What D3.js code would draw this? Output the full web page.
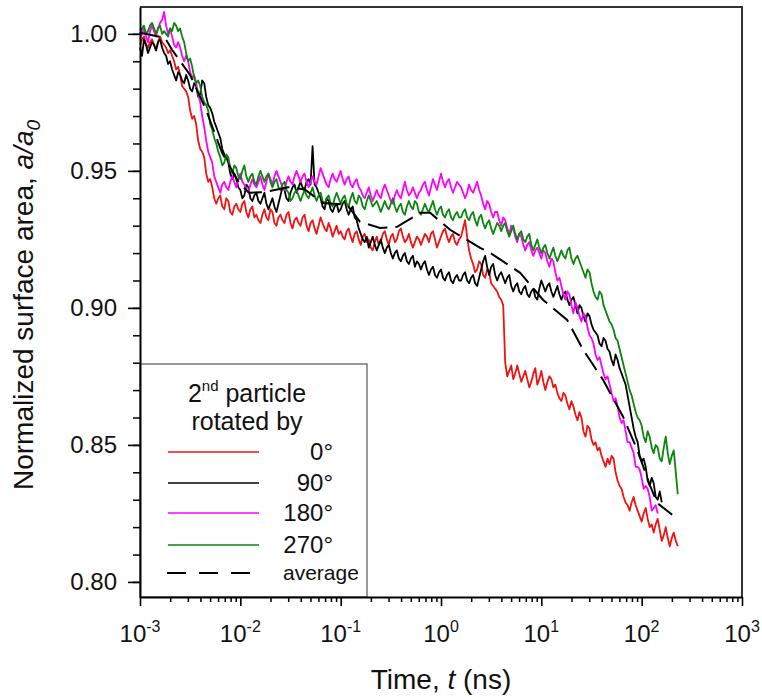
<!DOCTYPE html>
<html>
<head>
<meta charset="utf-8">
<script src="https://cdn.jsdelivr.net/npm/d3@7"></script>
<style>
  body { margin: 0; background: #fff; }
  svg { display: block; font-family: "Liberation Sans", Arial, sans-serif; }
</style>
</head>
<body>
<svg id="chart" width="762" height="700"></svg>
<script>
// ---------- DATA ----------
// common time grid (ns)
const time = [
  1.000e-3,1.047e-3,1.096e-3,1.148e-3,1.202e-3,1.259e-3,1.318e-3,1.380e-3,1.445e-3,1.514e-3,1.585e-3,1.660e-3,1.738e-3,1.820e-3,1.905e-3,1.995e-3,2.089e-3,2.188e-3,2.291e-3,2.399e-3,2.512e-3,2.630e-3,2.754e-3,2.884e-3,3.020e-3,3.162e-3,3.311e-3,3.467e-3,3.631e-3,3.802e-3,3.981e-3,4.169e-3,4.365e-3,4.571e-3,4.786e-3,5.012e-3,5.248e-3,5.495e-3,5.754e-3,6.026e-3,6.310e-3,6.607e-3,6.918e-3,7.244e-3,7.586e-3,7.943e-3,8.318e-3,8.710e-3,9.120e-3,9.550e-3,
  1.000e-2,1.047e-2,1.096e-2,1.148e-2,1.202e-2,1.259e-2,1.318e-2,1.380e-2,1.445e-2,1.514e-2,1.585e-2,1.660e-2,1.738e-2,1.820e-2,1.905e-2,1.995e-2,2.089e-2,2.188e-2,2.291e-2,2.399e-2,2.512e-2,2.630e-2,2.754e-2,2.884e-2,3.020e-2,3.162e-2,3.311e-2,3.467e-2,3.631e-2,3.802e-2,3.981e-2,4.169e-2,4.365e-2,4.571e-2,4.786e-2,5.012e-2,5.248e-2,5.495e-2,5.754e-2,6.026e-2,6.310e-2,6.607e-2,6.918e-2,7.244e-2,7.586e-2,7.943e-2,8.318e-2,8.710e-2,9.120e-2,9.550e-2,
  1.000e-1,1.047e-1,1.096e-1,1.148e-1,1.202e-1,1.259e-1,1.318e-1,1.380e-1,1.445e-1,1.514e-1,1.585e-1,1.660e-1,1.738e-1,1.820e-1,1.905e-1,1.995e-1,2.089e-1,2.188e-1,2.291e-1,2.399e-1,2.512e-1,2.630e-1,2.754e-1,2.884e-1,3.020e-1,3.162e-1,3.311e-1,3.467e-1,3.631e-1,3.802e-1,3.981e-1,4.169e-1,4.365e-1,4.571e-1,4.786e-1,5.012e-1,5.248e-1,5.495e-1,5.754e-1,6.026e-1,6.310e-1,6.607e-1,6.918e-1,7.244e-1,7.586e-1,7.943e-1,8.318e-1,8.710e-1,9.120e-1,9.550e-1,
  1.000e0,1.047e0,1.096e0,1.148e0,1.202e0,1.259e0,1.318e0,1.380e0,1.445e0,1.514e0,1.585e0,1.660e0,1.738e0,1.820e0,1.905e0,1.995e0,2.089e0,2.188e0,2.291e0,2.399e0,2.512e0,2.630e0,2.754e0,2.884e0,3.020e0,3.162e0,3.311e0,3.467e0,3.631e0,3.802e0,3.981e0,4.169e0,4.365e0,4.571e0,4.786e0,5.012e0,5.248e0,5.495e0,5.754e0,6.026e0,6.310e0,6.607e0,6.918e0,7.244e0,7.586e0,7.943e0,8.318e0,8.710e0,9.120e0,9.550e0,
  1.000e1,1.047e1,1.096e1,1.148e1,1.202e1,1.259e1,1.318e1,1.380e1,1.445e1,1.514e1,1.585e1,1.660e1,1.738e1,1.820e1,1.905e1,1.995e1,2.089e1,2.188e1,2.291e1,2.399e1,2.512e1,2.630e1,2.754e1,2.884e1,3.020e1,3.162e1,3.311e1,3.467e1,3.631e1,3.802e1,3.981e1,4.169e1,4.365e1,4.571e1,4.786e1,5.012e1,5.248e1,5.495e1,5.754e1,6.026e1,6.310e1,6.607e1,6.918e1,7.244e1,7.586e1,7.943e1,8.318e1,8.710e1,9.120e1,9.550e1,
  1.000e2,1.047e2,1.096e2,1.148e2,1.202e2,1.259e2,1.318e2,1.380e2,1.445e2,1.514e2,1.585e2,1.660e2,1.738e2,1.820e2,1.905e2,1.995e2,2.089e2,2.188e2,2.291e2
];

// 2nd particle rotated by 0°
const rot0 = [
  0.996,0.998,0.999,0.996,0.995,0.997,0.998,0.996,0.994,0.997,0.999,0.997,0.996,0.995,0.993,0.994,0.992,0.990,0.987,0.988,
  0.985,0.981,0.980,0.979,0.977,0.972,0.969,0.970,0.967,0.961,0.958,0.957,0.955,0.949,0.946,0.947,0.944,0.940,0.938,0.940,
  0.941,0.937,0.936,0.940,0.939,0.935,0.934,0.937,0.938,0.936,0.935,0.938,0.939,0.935,0.933,0.936,0.937,0.933,0.934,0.932,
  0.931,0.934,0.936,0.933,0.932,0.936,0.935,0.931,0.930,0.933,0.934,0.932,0.931,0.934,0.935,0.931,0.929,0.932,0.933,0.931,
  0.930,0.933,0.934,0.930,0.928,0.931,0.932,0.929,0.927,0.930,0.933,0.931,0.929,0.928,0.931,0.929,0.926,0.928,0.930,0.927,
  0.928,0.926,0.925,0.928,0.929,0.926,0.924,0.927,0.928,0.925,0.923,0.926,0.927,0.924,0.925,0.922,0.921,0.924,0.926,0.923,
  0.924,0.927,0.928,0.925,0.923,0.926,0.927,0.924,0.925,0.928,0.929,0.926,0.924,0.925,0.927,0.924,0.922,0.924,0.926,0.925,
  0.923,0.925,0.927,0.926,0.924,0.927,0.928,0.925,0.922,0.924,0.926,0.928,0.929,0.926,0.924,0.926,0.927,0.924,0.923,0.925,
  0.926,0.929,0.932,0.926,0.921,0.918,0.916,0.913,0.914,0.917,0.916,0.912,0.911,0.914,0.913,0.909,0.908,0.907,0.906,0.904,0.903,0.901,0.880,0.875,
  0.877,0.879,0.874,0.876,0.879,0.876,0.873,0.875,0.877,0.874,0.871,0.873,0.876,0.878,0.872,0.874,0.877,0.873,0.870,0.873,0.875,0.874,0.871,0.872,
  0.869,0.867,0.866,0.869,0.868,0.865,0.863,0.866,0.864,0.861,0.859,0.862,0.860,0.855,0.853,0.857,0.856,0.852,0.850,0.851,0.848,0.849,0.846,0.844,0.842,0.845,
  0.843,0.846,0.845,0.840,0.837,0.835,0.834,0.831,0.829,0.828,0.826,0.829,0.831,0.828,0.826,0.824,0.822,0.825,0.827,0.823,0.820,0.821,
  0.818,0.821,0.823,0.819,0.815,0.817,0.820,0.816,0.813,0.816,0.818,0.815,0.813
];

// rotated by 90°
const rot90 = [
  0.995,0.992,0.998,0.996,0.993,0.995,0.997,0.996,0.994,0.997,0.998,0.995,0.993,0.992,0.989,0.990,0.987,0.985,0.983,0.986,
  0.985,0.983,0.982,0.985,0.983,0.980,0.979,0.982,0.981,0.977,0.978,0.983,0.982,0.977,0.974,0.973,0.971,0.968,0.966,0.964,
  0.962,0.958,0.956,0.955,0.953,0.949,0.947,0.949,0.947,0.944,0.943,0.940,0.941,0.945,0.944,0.940,0.939,0.941,0.942,0.939,
  0.938,0.940,0.942,0.938,0.936,0.938,0.940,0.937,0.935,0.938,0.941,0.944,0.943,0.940,0.939,0.942,0.944,0.945,0.942,0.944,
  0.946,0.944,0.943,0.946,0.947,0.945,0.959,0.945,0.944,0.942,0.940,0.937,0.936,0.940,0.939,0.936,0.935,0.937,0.938,0.935,
  0.936,0.938,0.939,0.936,0.934,0.936,0.937,0.933,0.932,0.929,0.927,0.925,0.924,0.926,0.922,0.924,0.926,0.923,0.921,0.923,
  0.925,0.922,0.920,0.922,0.923,0.920,0.918,0.920,0.921,0.918,0.917,0.919,0.920,0.917,0.916,0.918,0.919,0.915,0.917,0.916,
  0.914,0.916,0.917,0.914,0.912,0.914,0.915,0.912,0.911,0.913,0.914,0.911,0.910,0.912,0.913,0.910,0.909,0.911,0.912,0.910,
  0.910,0.912,0.913,0.910,0.909,0.911,0.912,0.909,0.908,0.911,0.914,0.917,0.919,0.915,0.912,0.915,0.916,0.912,0.910,0.912,
  0.913,0.911,0.909,0.911,0.912,0.908,0.906,0.908,0.909,0.906,0.905,0.907,0.908,0.905,0.904,0.906,0.907,0.904,0.903,0.907,
  0.910,0.908,0.906,0.908,0.909,0.906,0.904,0.906,0.908,0.905,0.903,0.905,0.906,0.903,0.901,0.903,0.904,0.901,
  0.898,0.901,0.900,0.897,0.895,0.898,0.897,0.894,0.892,0.891,0.890,0.887,0.886,0.889,0.888,0.885,0.884,0.881,0.879,0.883,0.881,0.878,
  0.876,0.874,0.872,0.868,0.864,0.860,0.856,0.853,0.851,0.846,0.844,0.845,0.842,0.837,0.835,0.838,0.836,0.831,0.830,0.833,0.829
];

// rotated by 180°
const rot180 = [
  0.998,1.000,1.002,0.999,0.997,1.001,1.003,1.001,0.999,1.002,1.004,1.005,1.008,1.003,1.000,1.002,0.999,0.996,0.995,0.997,
  0.995,0.992,0.990,0.992,0.990,0.986,0.984,0.985,0.982,0.978,0.975,0.970,0.966,0.961,0.957,0.955,0.953,0.948,0.946,0.944,
  0.942,0.945,0.946,0.944,0.943,0.946,0.948,0.946,0.944,0.947,0.949,0.946,0.945,0.943,0.942,0.945,0.947,0.945,0.944,0.946,
  0.948,0.945,0.943,0.946,0.949,0.947,0.945,0.948,0.950,0.948,0.946,0.944,0.943,0.946,0.948,0.946,0.945,0.948,0.950,0.948,
  0.946,0.948,0.949,0.946,0.944,0.946,0.948,0.946,0.945,0.948,0.951,0.949,0.947,0.945,0.944,0.947,0.949,0.947,0.946,0.948,
  0.950,0.947,0.945,0.947,0.948,0.945,0.944,0.946,0.947,0.944,0.943,0.941,0.940,0.942,0.944,0.941,0.939,0.941,0.943,0.941,
  0.940,0.943,0.945,0.943,0.941,0.939,0.938,0.941,0.943,0.941,0.940,0.943,0.946,0.943,0.941,0.942,0.944,0.942,0.940,0.942,
  0.943,0.945,0.946,0.943,0.941,0.944,0.947,0.945,0.943,0.946,0.949,0.946,0.944,0.946,0.947,0.944,0.942,0.944,0.946,0.945,
  0.944,0.942,0.940,0.942,0.945,0.943,0.942,0.944,0.946,0.943,0.941,0.938,0.936,0.939,0.938,0.935,0.933,0.935,0.935,0.932,
  0.930,0.933,0.932,0.929,0.927,0.930,0.929,0.926,0.924,0.927,0.926,0.923,0.921,0.923,0.924,0.921,0.919,0.921,0.922,0.920,
  0.918,0.921,0.920,0.917,0.915,0.918,0.917,0.913,0.910,0.911,0.908,0.905,0.903,0.906,0.905,0.901,0.898,0.902,
  0.900,0.897,0.895,0.898,0.897,0.893,0.890,0.889,0.887,0.883,0.881,0.882,0.879,0.876,0.874,0.875,0.872,0.869,0.866,0.867,
  0.864,0.860,0.858,0.859,0.855,0.851,0.851,0.849,0.847,0.842,0.842,0.841,0.838,0.834,0.835,0.834,0.831,0.826,0.827,0.828,0.825
];

// rotated by 270°
const rot270 = [
  1.000,1.002,1.003,1.000,1.001,1.003,1.004,1.002,1.000,1.002,1.003,1.000,1.001,1.000,0.999,1.002,1.001,1.004,1.003,1.001,
  1.002,0.999,0.997,0.993,0.990,0.991,0.988,0.984,0.982,0.983,0.981,0.977,0.975,0.974,0.972,0.967,0.965,0.962,0.960,0.957,
  0.955,0.952,0.953,0.956,0.955,0.951,0.949,0.952,0.951,0.948,0.947,0.950,0.952,0.948,0.946,0.948,0.949,0.946,0.945,0.948,
  0.950,0.948,0.946,0.948,0.949,0.946,0.944,0.946,0.947,0.944,0.943,0.945,0.946,0.943,0.942,0.939,0.940,0.942,0.943,0.941,
  0.939,0.941,0.943,0.941,0.940,0.942,0.944,0.941,0.939,0.941,0.942,0.939,0.938,0.940,0.941,0.938,0.937,0.940,0.942,0.940,
  0.938,0.940,0.941,0.938,0.937,0.940,0.942,0.939,0.938,0.941,0.940,0.937,0.936,0.939,0.941,0.939,0.937,0.938,0.939,0.937,
  0.935,0.937,0.939,0.937,0.936,0.938,0.940,0.937,0.935,0.937,0.938,0.935,0.934,0.937,0.939,0.937,0.936,0.939,0.938,0.935,
  0.934,0.936,0.938,0.936,0.935,0.937,0.939,0.936,0.934,0.936,0.937,0.934,0.933,0.935,0.936,0.933,0.932,0.934,0.935,0.933,
  0.933,0.935,0.936,0.933,0.932,0.934,0.935,0.932,0.930,0.933,0.934,0.931,0.929,0.931,0.932,0.929,0.927,0.929,0.931,0.930,
  0.928,0.930,0.931,0.928,0.926,0.928,0.930,0.927,0.925,0.927,0.928,0.925,0.924,0.926,0.927,0.923,0.921,0.923,0.925,0.922,
  0.920,0.922,0.923,0.920,0.918,0.920,0.922,0.919,0.917,0.919,0.921,0.919,0.918,0.921,0.922,0.918,0.916,0.918,0.919,0.917,0.915,0.913,
  0.911,0.914,0.913,0.909,0.906,0.904,0.903,0.906,0.905,0.901,0.899,0.897,0.895,0.894,0.892,0.889,0.888,0.885,0.882,0.879,0.876,0.873,0.870,0.868,
  0.865,0.862,0.860,0.859,0.857,0.853,0.851,0.855,0.853,0.849,0.847,0.850,0.849,0.845,0.844,0.849,0.853,0.847,0.843,0.846,0.848,0.840,0.832
];

// average (dashed)
const avgTime = [0.001000,0.001775,0.002084,0.003154,0.004550,0.006577,0.009705,0.01222,0.01763,0.03133,
  0.04419,0.06677,0.1159,0.1561,0.2470,0.3648,0.6194,0.7785,1.233,2.455,
  3.090,6.152,10.42,18.08,26.12,41.32,65.46,90.31,121.7,142.9,201.5];
const avgValue = [1.0004,0.9985,0.9942,0.9850,0.9723,0.9566,0.9456,0.9420,0.9423,0.9442,
  0.9431,0.9383,0.9376,0.9314,0.9292,0.9296,0.9347,0.9347,0.9285,0.9219,
  0.9201,0.9128,0.9029,0.8956,0.8847,0.8737,0.8602,0.8482,0.8350,0.8288,0.8245];

const seriesNames = ["0°","90°","180°","270°"];
const seriesColors = ["#f21212","#000000","#ff00ff","#0c850c"];
const seriesValues = [rot0, rot90, rot180, rot270];

const yTickValues = [0.80, 0.85, 0.90, 0.95, 1.00];
const xTickExponents = [-3,-2,-1,0,1,2,3];
const legendTitle = ["2", "nd", " particle"];
const legendSub = "rotated by";
const averageLabel = "average";

// ---------- LAYOUT ----------
const L = 140, R = 742, T = 7, B = 597;
const svg = d3.select("#chart");
const x = d3.scaleLog().domain([1e-3, 1e3]).range([L, R]);
const y = d3.scaleLinear().domain([0.7945, 1.0098]).range([B, T]);

// frame (top / right)
svg.append("path")
  .attr("d", `M${L},${T}H${R}V${B}`)
  .attr("fill", "none").attr("stroke", "#333").attr("stroke-width", 2);

// data lines
const line = d3.line().x(d => x(d[0])).y(d => y(d[1]));
const gLines = svg.append("g");
seriesValues.forEach((vals, k) => {
  const data = vals.map((v, i) => [time[i], v]);
  gLines.append("path").datum(data)
    .attr("d", line)
    .attr("fill", "none")
    .attr("stroke", seriesColors[k])
    .attr("stroke-width", 1.8)
    .attr("stroke-linejoin", "round");
});
gLines.append("path").datum(avgTime.map((t, i) => [t, avgValue[i]]))
  .attr("d", line)
  .attr("fill", "none").attr("stroke", "#000")
  .attr("stroke-width", 2).attr("stroke-dasharray", "20,8");

// legend
const lg = svg.append("g");
lg.append("rect").attr("x", L).attr("y", 364).attr("width", 227).attr("height", B - 364)
  .attr("fill", "#fff").attr("stroke", "#555").attr("stroke-width", 1.2);
const t1 = lg.append("text").attr("x", 247).attr("y", 402).attr("text-anchor", "middle")
  .attr("font-size", 25).attr("fill", "#111");
t1.append("tspan").text(legendTitle[0]);
t1.append("tspan").attr("font-size", 15).attr("dy", -11).text(legendTitle[1]);
t1.append("tspan").attr("dy", 11).text(legendTitle[2]);
lg.append("text").attr("x", 247).attr("y", 430).attr("text-anchor", "middle")
  .attr("font-size", 25).attr("fill", "#111").text(legendSub);
const legY = [452, 483, 513, 545, 573];
seriesNames.forEach((n, k) => {
  lg.append("line").attr("x1", 168).attr("x2", 259).attr("y1", legY[k]).attr("y2", legY[k])
    .attr("stroke", seriesColors[k]).attr("stroke-width", 1.6);
  lg.append("text").attr("x", 333).attr("y", legY[k] + 8).attr("text-anchor", "end")
    .attr("font-size", 24).attr("fill", "#111").text(n);
});
lg.append("line").attr("x1", 167).attr("x2", 251).attr("y1", legY[4]).attr("y2", legY[4])
  .attr("stroke", "#000").attr("stroke-width", 2).attr("stroke-dasharray", "19,13");
lg.append("text").attr("x", 283).attr("y", legY[4] + 7).attr("font-size", 21)
  .attr("fill", "#111").text(averageLabel);

// y axis
const yMinor = d3.range(80, 101).map(v => v / 100);
svg.append("g").attr("transform", `translate(${L},0)`)
  .call(d3.axisLeft(y).tickValues(yMinor).tickSize(7).tickSizeOuter(0).tickFormat(""))
  .call(g => g.select(".domain").remove())
  .selectAll("line").attr("stroke-width", 1.5);
const yAx = svg.append("g").attr("transform", `translate(${L},0)`)
  .call(d3.axisLeft(y).tickValues(yTickValues).tickSize(12).tickSizeOuter(0)
    .tickPadding(11).tickFormat(d3.format(".2f")));
yAx.select(".domain").attr("stroke-width", 2);
yAx.selectAll("line").attr("stroke-width", 1.6);
yAx.selectAll("text").attr("font-size", 24).attr("fill", "#111")
  .attr("font-family", "Liberation Sans, Arial, sans-serif");

// x axis
const majors = xTickExponents.map(e => Math.pow(10, e));
const xMinor = x.ticks().filter(v => !majors.some(m => Math.abs(v / m - 1) < 1e-6));
svg.append("g").attr("transform", `translate(0,${B})`)
  .call(d3.axisBottom(x).tickValues(xMinor).tickSize(5).tickSizeOuter(0).tickFormat(""))
  .call(g => g.select(".domain").remove())
  .selectAll("line").attr("stroke-width", 1.5);
const xAx = svg.append("g").attr("transform", `translate(0,${B})`)
  .call(d3.axisBottom(x).tickValues(majors).tickSize(9).tickSizeOuter(0).tickFormat(""));
xAx.select(".domain").attr("stroke-width", 2);
xAx.selectAll("line").attr("stroke-width", 1.6);
xTickExponents.forEach((e, k) => {
  const tx = svg.append("text").attr("x", x(majors[k])).attr("y", 642)
    .attr("text-anchor", "middle").attr("font-size", 24).attr("fill", "#111");
  tx.append("tspan").text("10");
  tx.append("tspan").attr("font-size", 16).attr("dy", -10).text(String(e));
});

// axis titles
const xt = svg.append("text").attr("x", 441).attr("y", 689).attr("text-anchor", "middle")
  .attr("font-size", 28).attr("fill", "#111");
xt.append("tspan").text("Time, ");
xt.append("tspan").attr("font-style", "italic").text("t");
xt.append("tspan").text(" (ns)");

const yt = svg.append("text").attr("transform", "translate(33,305) rotate(-90)")
  .attr("text-anchor", "middle").attr("font-size", 28).attr("fill", "#111");
yt.append("tspan").text("Normalized surface area, ");
yt.append("tspan").attr("font-style", "italic").text("a/a");
yt.append("tspan").attr("font-style", "italic").attr("font-size", 19).attr("dy", 7).text("0");
</script>
</body>
</html>
